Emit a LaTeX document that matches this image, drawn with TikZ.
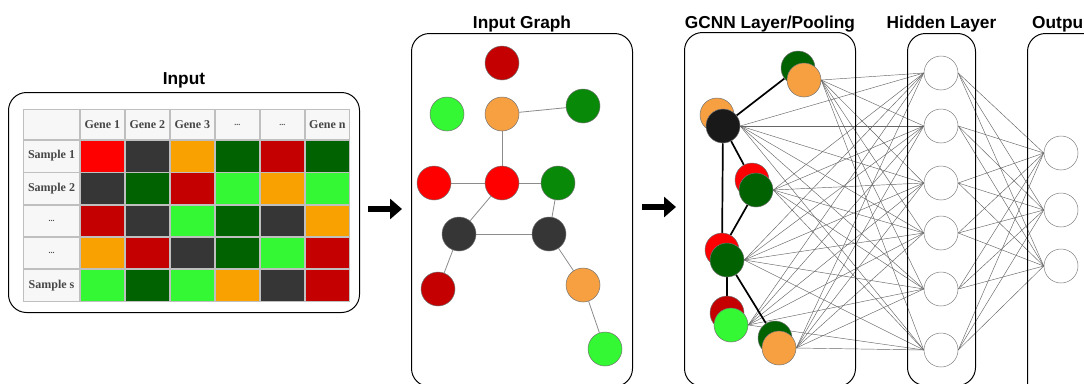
\documentclass[tikz,border=0pt]{standalone}
\usepackage{fontspec}
\setmainfont{Liberation Serif}
\setsansfont{Liberation Sans}
\usepackage{tikz}
\usetikzlibrary{matrix,positioning,arrows.meta}

\definecolor{myred}{HTML}{FF0000}
\definecolor{mydkred}{HTML}{C40000}
\definecolor{mygray}{HTML}{363636}
\definecolor{myorange}{HTML}{F9A100}
\definecolor{mypeach}{HTML}{F7A042}
\definecolor{mygreen}{HTML}{006200}
\definecolor{mymid}{HTML}{088A08}
\definecolor{mylime}{HTML}{33F833}

\pgfdeclarelayer{bg}
\pgfdeclarelayer{edges}
\pgfsetlayers{bg,edges,main}

\begin{document}
\begin{tikzpicture}[x=1pt,y=-1pt,
		panel/.style={draw,line width=1pt,rounded corners=18pt,inner sep=0pt,anchor=north west},
		title/.style={font=\sffamily\bfseries\fontsize{17.3}{20}\selectfont,inner sep=1pt},
		R/.style={fill=myred},D/.style={fill=mydkred},K/.style={fill=mygray},
		O/.style={fill=myorange},G/.style={fill=mygreen},L/.style={fill=mylime},
		gn/.style={circle,minimum size=34pt,inner sep=0pt,draw=black!55,line width=0.5pt},
		hn/.style={gn,fill=white,draw=black!50},
		net/.style={draw=black!60,line width=0.45pt},
		link/.style={draw=black!45,line width=0.8pt},
		pool/.style={line width=1.7pt},
		bigarrow/.style={line width=5.5pt,-{Triangle[length=12pt,width=20pt]}}
		]
		\useasboundingbox (0,0) rectangle (1084,383);
		\begin{pgfonlayer}{bg}
			\fill[white] (0,0) rectangle (1084,383);
		\end{pgfonlayer}
		\def\dots{{\fontsize{8}{9}\selectfont...}}

		% input table
		\node[panel,minimum width=351pt,minimum height=220pt] (inbox) at (8,92) {};
		\node[title,above=3pt of inbox] {Input};
		\matrix[matrix of nodes,
		ampersand replacement=\&,
		nodes in empty cells,
		inner sep=0pt,
		anchor=north west,
		nodes={anchor=center,inner sep=0pt,draw=black!25,line width=0.7pt,fill=black!3,
			minimum width=44.3pt,minimum height=31.6pt,text=black!72,
			font=\bfseries\fontsize{12}{14}\selectfont},
		column 1/.style={nodes={minimum width=56pt}},
		row 1/.style={nodes={minimum height=30pt}}
		] (tab) at (23,109) {
			      \& Gene 1 \& Gene 2 \& Gene 3 \& \dots \& \dots \& Gene n \\
			Sample 1 \& |[R]| \& |[K]| \& |[O]| \& |[G]| \& |[D]| \& |[G]| \\
			Sample 2 \& |[K]| \& |[G]| \& |[D]| \& |[L]| \& |[O]| \& |[L]| \\
			\dots \& |[D]| \& |[K]| \& |[L]| \& |[G]| \& |[K]| \& |[O]| \\
			\dots \& |[O]| \& |[D]| \& |[K]| \& |[G]| \& |[L]| \& |[D]| \\
			Sample s \& |[L]| \& |[G]| \& |[L]| \& |[O]| \& |[K]| \& |[D]| \\
		};

		\coordinate (a1) at (368,209);
		\coordinate (a1e) at (402,209);
		\draw[bigarrow] (a1) -- (a1e);

		% input graph
		\node[panel,minimum width=221pt,minimum height=353pt] (graphbox) at (411,33) {};
		\node[title,above=0pt of graphbox] {Input Graph};
		\node[gn,fill=mydkred] (n1) at (502,63) {};
		\node[gn,fill=mylime] (n2) at (447,114) {};
		\node[gn,fill=mypeach] (n3) at (502,114) {};
		\node[gn,fill=mymid] (n4) at (583,106) {};
		\node[gn,fill=myred] (n5) at (434,183) {};
		\node[gn,fill=myred] (n6) at (502,183) {};
		\node[gn,fill=mymid] (n7) at (558,183) {};
		\node[gn,fill=mygray] (n8) at (459,234) {};
		\node[gn,fill=mygray] (n9) at (549,234) {};
		\node[gn,fill=mydkred] (n10) at (438,289) {};
		\node[gn,fill=mypeach] (n11) at (583,285) {};
		\node[gn,fill=mylime] (n12) at (605,349) {};
		\begin{pgfonlayer}{edges}
			\foreach \a/\b in {n3/n4,n3/n6,n5/n6,n6/n7,n6/n8,n7/n9,n8/n9,n8/n10,n9/n11,n11/n12}
				\draw[link] (\a) -- (\b);
		\end{pgfonlayer}

		\coordinate (a2) at (642,207);
		\coordinate (a2e) at (676,207);
		\draw[bigarrow] (a2) -- (a2e);

		% gcnn layer, hidden layer, output
		\node[panel,minimum width=171pt,minimum height=354pt] (gcnnbox) at (684,32) {};
		\node[title,above=-1pt of gcnnbox] {GCNN Layer/Pooling};
		\node[panel,minimum width=68pt,minimum height=352pt] (hidbox) at (907,33) {};
		\node[title,above=0pt of hidbox] {Hidden Layer};
		\node[panel,minimum width=80pt,minimum height=370pt] (outbox) at (1027,33) {};
		\node[title,above right=0pt and 4pt of outbox.north west] {Outpu};

		\foreach \i/\bx/\by/\bc/\fx/\fy/\fc in {
			1/798/68/mygreen/804/80/mypeach,
			2/717/115/mypeach/723/126/black!90,
			3/752/180/myred/756/190/mygreen,
			4/722/250/myred/727/260/mygreen,
			5/727/313/mydkred/731/325/mylime,
			6/775/338/mygreen/779/348/mypeach}{
			\node[gn,fill=\bc] (b\i) at (\bx,\by) {};
			\node[gn,fill=\fc] (g\i) at (\fx,\fy) {};
		}
		\foreach \i/\y in {1/73,2/126,3/183,4/233,5/289,6/350}
			\node[hn] (h\i) at (941,\y) {};
		\foreach \k/\y in {1/153,2/210,3/266}
			\node[hn] (o\k) at (1061,\y) {};

		\begin{pgfonlayer}{edges}
			\foreach \i in {1,...,6}
				\foreach \j in {1,...,6}
					\draw[net] (g\i.east) -- (h\j.west);
			\foreach \j in {1,...,6}
				\foreach \k in {1,2,3}
					\draw[net] (h\j.east) -- (o\k.west);
			\foreach \a/\b in {g2/b1,g2/b3,g2/b4,g3/b4,g4/b5,g4/b6}
				\draw[pool] (\a) -- (\b);
		\end{pgfonlayer}
\end{tikzpicture}
\end{document}
